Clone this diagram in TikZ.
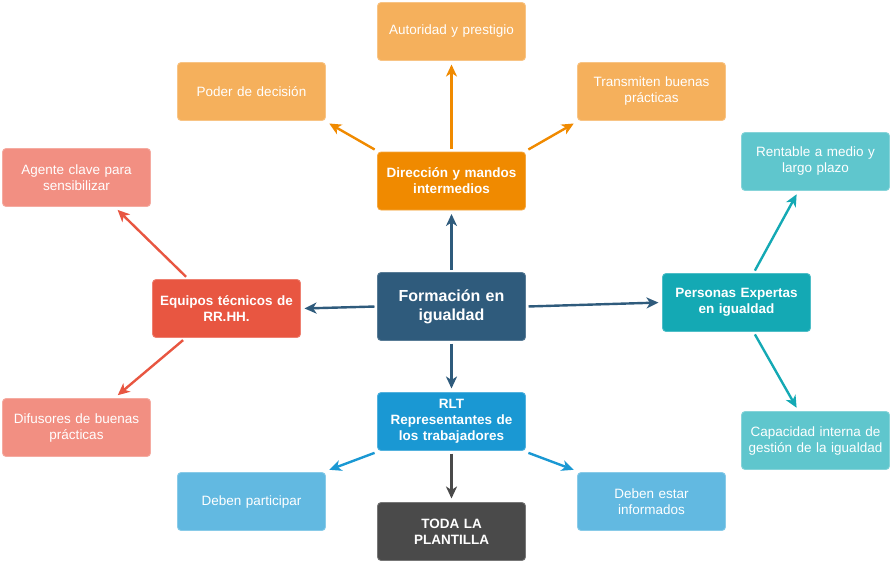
\documentclass[tikz,border=0pt]{standalone}
\usepackage{fontspec}
\setmainfont{Liberation Sans}
\usetikzlibrary{arrows.meta}
\definecolor{cMain}{HTML}{2F5B7C}
\definecolor{cOr}{HTML}{F08A00}
\definecolor{cOrL}{HTML}{F5B05C}
\definecolor{cRed}{HTML}{E85641}
\definecolor{cRedL}{HTML}{F28F82}
\definecolor{cTeal}{HTML}{14A9B4}
\definecolor{cTealL}{HTML}{5FC6CD}
\definecolor{cBlue}{HTML}{1A98D3}
\definecolor{cBlueL}{HTML}{62B9E1}
\definecolor{cGray}{HTML}{4A4A4A}
\tikzset{
  box/.style={rectangle, rounded corners=3.5pt, minimum width=148pt, minimum height=58pt,
    inner xsep=2pt, text width=144pt, align=center, text=white, font=\fontsize{13.5}{16}\selectfont, line width=0.8pt, outer sep=2pt},
  hub/.style={box, font=\fontsize{13.5}{16}\selectfont\bfseries},
  conn/.style={line width=2.4pt, -{Stealth[length=12pt,width=11pt,inset=3.5pt]}, shorten >=2pt, shorten <=1pt}
}
\begin{document}
\begin{tikzpicture}[x=1pt,y=-1pt]
\useasboundingbox (0,0) rectangle (893,563);
% nodes
\node[hub, fill=cMain, draw=cMain!80!white, font=\fontsize{16}{19}\selectfont\bfseries, minimum height=68pt] (form) at (451.5,306.5) {Formación en\\igualdad};
\node[hub, fill=cOr, draw=cOr!75!white] (dir) at (451.5,181) {Dirección y mandos\\intermedios};
\node[box, fill=cOrL, draw=cOrL!75!white] (aut) at (451.5,31.5) {Autoridad y prestigio};
\node[box, fill=cOrL, draw=cOrL!75!white] (pod) at (251.5,91.5) {Poder de decisión};
\node[box, fill=cOrL, draw=cOrL!75!white] (tra) at (651.5,91.5) {Transmiten buenas\\prácticas};
\node[hub, fill=cRed, draw=cRed!75!white] (equ) at (226.5,308.5) {Equipos técnicos de\\RR.HH.};
\node[box, fill=cRedL, draw=cRedL!75!white] (age) at (76.5,177.5) {Agente clave para\\sensibilizar};
\node[box, fill=cRedL, draw=cRedL!75!white] (dif) at (76.5,427.5) {Difusores de buenas\\prácticas};
\node[hub, fill=cTeal, draw=cTeal!75!white] (per) at (736.5,302.5) {Personas Expertas\\en igualdad};
\node[box, fill=cTealL, draw=cTealL!75!white] (ren) at (815.5,161.5) {Rentable a medio y\\largo plazo};
\node[box, fill=cTealL, draw=cTealL!75!white] (cap) at (815.5,440.5) {Capacidad interna de\\gestión de la igualdad};
\node[hub, fill=cBlue, draw=cBlue!75!white] (rlt) at (451.5,421.5) {RLT\\Representantes de\\los trabajadores};
\node[box, fill=cBlueL, draw=cBlueL!75!white] (par) at (251.5,501.5) {Deben participar};
\node[box, fill=cBlueL, draw=cBlueL!75!white] (inf) at (651.5,501.5) {Deben estar\\informados};
\node[hub, fill=cGray, draw=cGray!75!white] (tod) at (451.5,531.5) {TODA LA\\PLANTILLA};
% connectors
\draw[conn, cMain] (form.north) -- (dir.south);
\draw[conn, cMain] (form.west) -- (equ.east);
\draw[conn, cMain] (form.east) -- (per.west);
\draw[conn, cMain] (form.south) -- (rlt.north);
\draw[conn, cOr] (dir.north) -- (aut.south);
\draw[conn, cOr] (dir.north west) -- (pod.south east);
\draw[conn, cOr] (dir.north east) -- (tra.south west);
\draw[conn, cRed] (equ.142) -- (age.-38);
\draw[conn, cRed] (equ.-144) -- (dif.38);
\draw[conn, cTeal] (per.60) -- (ren.-120);
\draw[conn, cTeal] (per.-60) -- (cap.120);
\draw[conn, cBlue] (rlt.south west) -- (par.north east);
\draw[conn, cBlue] (rlt.south east) -- (inf.north west);
\draw[conn, cGray] (rlt.south) -- (tod.north);
\end{tikzpicture}
\end{document}
